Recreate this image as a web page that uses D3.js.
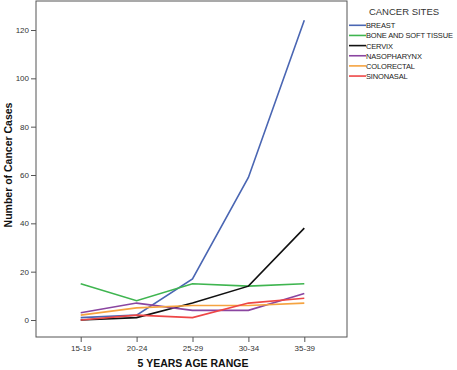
<!DOCTYPE html>
<html><head><meta charset="utf-8">
<script src="https://cdn.jsdelivr.net/npm/d3@7"></script>
<style>body{margin:0;background:#fff}svg{display:block}</style>
</head><body>
<script>
const categories = ["15-19","20-24","25-29","30-34","35-39"];
const seriesNames = ["BREAST","BONE AND SOFT TISSUE","CERVIX","NASOPHARYNX","COLORECTAL","SINONASAL"];
const breast = [1,2,17,59,124];
const bone = [15,8,15,14,15];
const cervix = [0,1,7,14,38];
const nasopharynx = [3,7,4,4,11];
const colorectal = [2,5,6,6,7];
const sinonasal = [0,2,1,7,9];
const yTicks = [0,20,40,60,80,100,120];
const colors = ["#4a66b3","#3fb550","#111111","#8a45a0","#f5a340","#ee4646"];
const seriesValues = [breast,bone,cervix,nasopharynx,colorectal,sinonasal];

const W=457,H=370;
const svg=d3.select("body").append("svg").attr("width",W).attr("height",H);
const pL=36,pR=347,pT=1,pB=337;
const x=d3.scalePoint().domain(categories).range([80.7,304.3]);
const y=d3.scaleLinear().domain([0,120]).range([320,30]);

svg.append("rect").attr("x",pL).attr("y",pT).attr("width",pR-pL).attr("height",pB-pT)
  .attr("fill","none").attr("stroke","#555").attr("stroke-width",1);

const ya=svg.append("g").attr("transform",`translate(${pL},0)`)
  .call(d3.axisLeft(y).tickValues(yTicks).tickSize(5).tickPadding(2));
ya.select(".domain").remove();
ya.selectAll("line").attr("stroke","#555");
ya.selectAll("text").attr("font-family","Liberation Sans, Arial, sans-serif").attr("font-size",8).attr("fill","#333");

const xa=svg.append("g").attr("transform",`translate(0,${pB})`)
  .call(d3.axisBottom(x).tickSize(5).tickPadding(3));
xa.select(".domain").remove();
xa.selectAll("line").attr("stroke","#555");
xa.selectAll("text").attr("font-family","Liberation Sans, Arial, sans-serif").attr("font-size",8).attr("fill","#333");

const line=d3.line().x((d,i)=>x(categories[i])).y(d=>y(d));
seriesValues.forEach((vals,k)=>{
  svg.append("path").datum(vals).attr("d",line).attr("fill","none")
    .attr("stroke",colors[k]).attr("stroke-width",1.6);
});

svg.append("text").attr("transform","translate(12,165) rotate(-90)").attr("text-anchor","middle")
  .attr("font-family","Liberation Sans, Arial, sans-serif").attr("font-weight","bold").attr("font-size",10.5)
  .attr("fill","#111").text("Number of Cancer Cases");
svg.append("text").attr("x",193).attr("y",367).attr("text-anchor","middle")
  .attr("font-family","Liberation Sans, Arial, sans-serif").attr("font-weight","bold").attr("font-size",10.5)
  .attr("fill","#111").text("5 YEARS AGE RANGE");

const lg=svg.append("g");
lg.append("text").attr("x",404).attr("y",15).attr("text-anchor","middle")
  .attr("font-family","Liberation Sans, Arial, sans-serif").attr("font-size",9.5).attr("fill","#333").text("CANCER SITES");
seriesNames.forEach((n,k)=>{
  const yy=25.3+k*10.15;
  lg.append("line").attr("x1",349).attr("x2",366).attr("y1",yy).attr("y2",yy).attr("stroke",colors[k]).attr("stroke-width",1.6);
  lg.append("text").attr("x",366).attr("y",yy+3).attr("font-family","Liberation Sans, Arial, sans-serif")
    .attr("font-size",7.5).attr("letter-spacing",-0.15).attr("fill","#222").text(n);
});
</script>
</body></html>
